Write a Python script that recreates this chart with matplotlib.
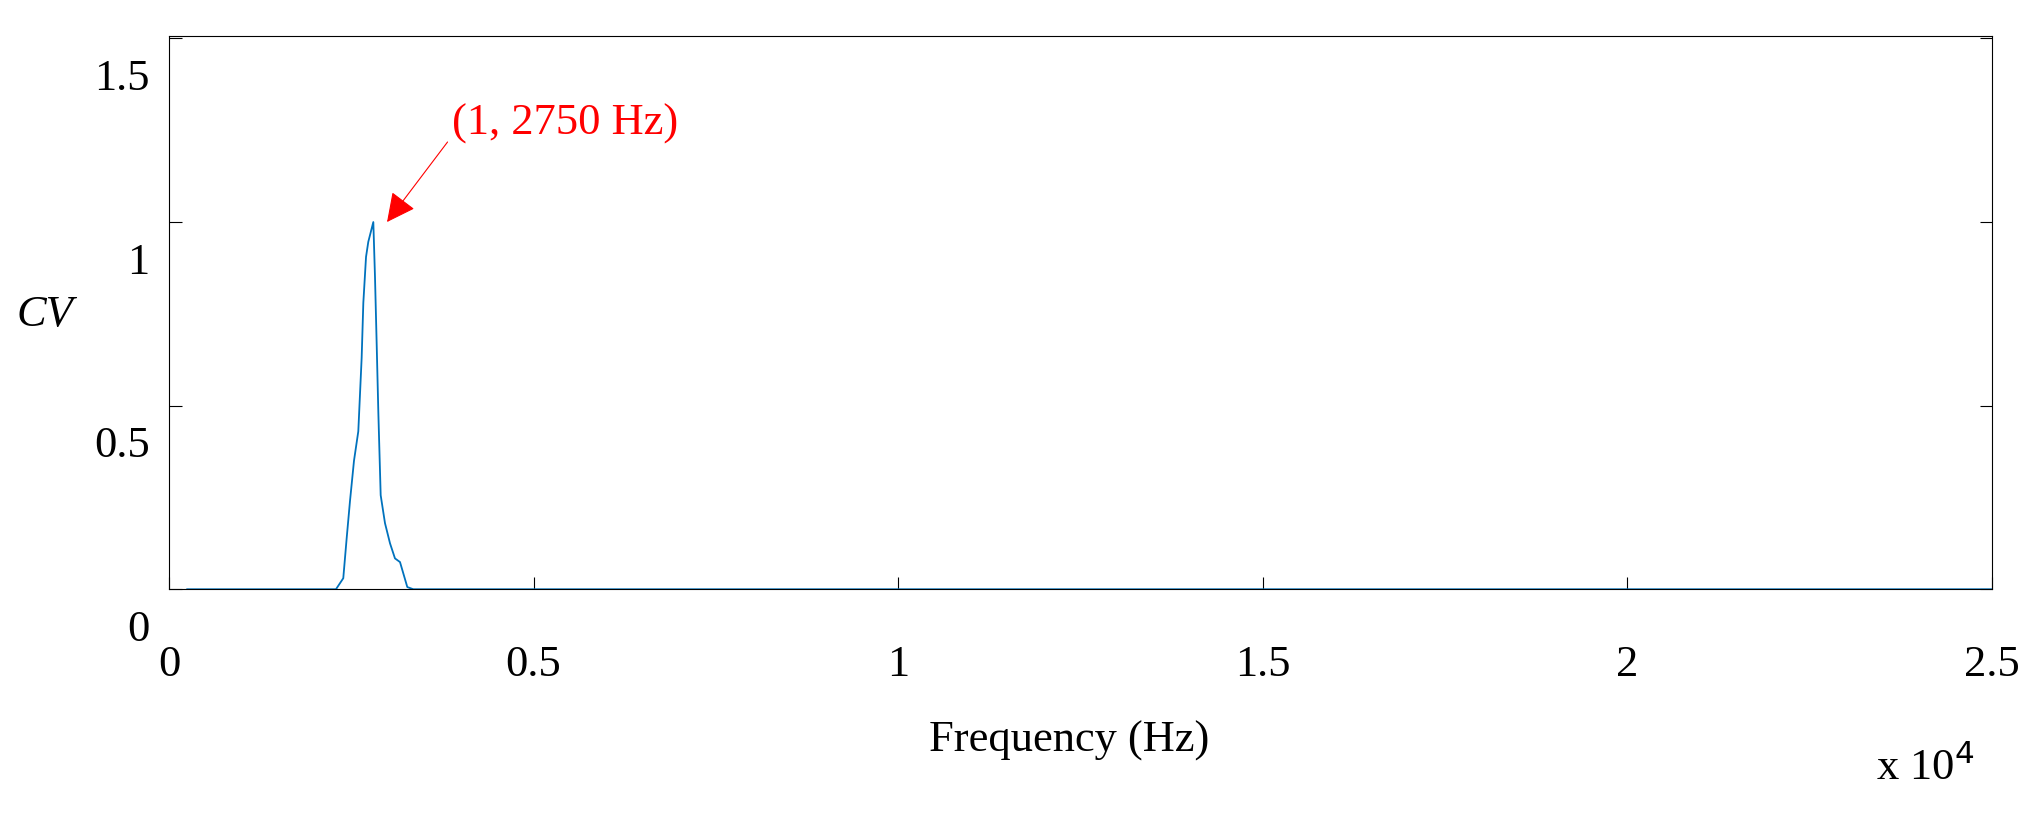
import matplotlib.pyplot as plt
from matplotlib.transforms import ScaledTranslation

# spectrum samples (Hz, CV)
freq = [250, 2290, 2390, 2437, 2482, 2537, 2596, 2642, 2665, 2702, 2733, 2802,
        2825, 2849, 2871, 2903, 2962, 3031, 3099, 3168, 3268, 3350, 25000]
cv = [0, 0, 0.03, 0.14, 0.24, 0.35, 0.43, 0.63, 0.78, 0.905, 0.946, 1.0,
      0.85, 0.66, 0.48, 0.256, 0.18, 0.125, 0.084, 0.074, 0.006, 0, 0]
xticks = [0, 5000, 10000, 15000, 20000, 25000]
xlabels = ["0", "0.5", "1", "1.5", "2", "2.5"]
yticks = [0, 0.5, 1, 1.5]
ylabels = ["0", "0.5", "1", "1.5"]

plt.rcParams["font.family"] = ["Liberation Serif", "DejaVu Serif"]
fig = plt.figure(figsize=(20.41, 8.15), dpi=100)
ax = fig.add_axes([0.0828, 0.277, 0.8932, 0.679])
ax.plot(freq, cv, color="#0072BD", lw=1.3)
ax.set_xlim(0, 25000)
ax.set_ylim(0, 1.507)

ax.set_xticks(xticks)
ax.set_xticklabels(xlabels, fontsize=32)
ax.set_yticks(yticks)
ax.set_yticklabels(ylabels, fontsize=32)
ax.tick_params(direction="in", length=9, right=True, width=0.8)
ax.tick_params(axis="x", pad=40)
ax.tick_params(axis="y", pad=14)
for lab in ax.get_yticklabels():
    lab.set_transform(lab.get_transform() + ScaledTranslation(0, -0.36, fig.dpi_scale_trans))
for s in ax.spines.values():
    s.set_linewidth(0.8)

fig.text(1069 / 2041, 1 - 741 / 815, "Frequency (Hz)", fontsize=32, ha="center", va="center")
fig.text(45 / 2041, 1 - 315 / 815, "CV", fontsize=32, style="italic", ha="center", va="center")
fig.text(1876 / 2041, 1 - 767 / 815, r"x 10$^4$", fontsize=32, ha="left", va="center")

ax.annotate("(1, 2750 Hz)", xy=(2990, 1.0), xytext=(3881, 1.267), color="red", fontsize=32,
            ha="left", va="center",
            arrowprops=dict(arrowstyle="-|>", color="red", lw=0.8, shrinkA=2, shrinkB=0,
                            mutation_scale=45, relpos=(0, 0.2)))

fig.savefig("out.png", dpi=100)
